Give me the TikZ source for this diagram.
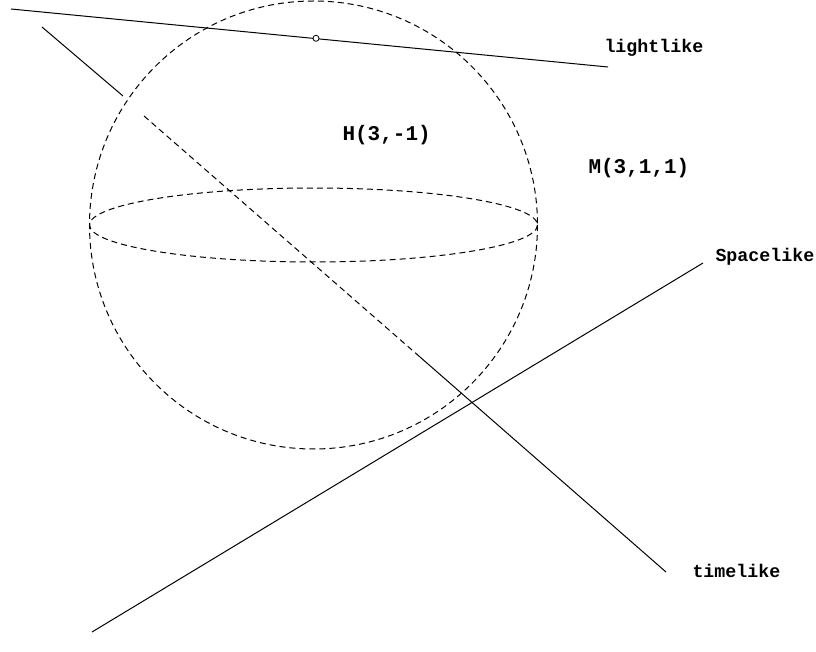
\documentclass[tikz,border=0pt]{standalone}
\usepackage{fontspec}
\setmonofont{Liberation Mono}
\begin{document}
\begin{tikzpicture}[x=1pt,y=-1pt,line width=1pt,
  dsh/.style={dash pattern=on 6pt off 4pt},
  lbl/.style={font=\ttfamily\bfseries\fontsize{18.3}{20}\selectfont,inner sep=0pt},
  biglbl/.style={font=\ttfamily\bfseries\fontsize{21}{23}\selectfont,inner sep=0pt}]
\useasboundingbox (0,0) rectangle (816,652);
% sphere
\coordinate (c) at (313.5,225);
\draw[dsh] (c) circle[radius=224];
\draw[dsh] (c) ellipse[x radius=224,y radius=37];
% lightlike line
\coordinate (l1) at (11,9);
\coordinate (l2) at (608,67);
\draw (l1) -- (l2);
\node[circle,draw,fill=white,inner sep=0pt,minimum size=6pt,line width=0.8pt] (p) at (316,38.3) {};
% timelike line
\coordinate (t1) at (42,27);
\coordinate (t2) at (123,96);
\coordinate (t3) at (144,116);
\coordinate (t4) at (420,357);
\coordinate (t5) at (666,572);
\draw (t1) -- (t2);
\draw[dsh] (t3) -- (t4);
\draw (t4) -- (t5);
% spacelike line
\coordinate (s1) at (92,632);
\coordinate (s2) at (703,263);
\draw (s1) -- (s2);
% labels
\node[lbl,anchor=west] (light) at (604,48) {lightlike};
\node[biglbl,anchor=west] (H) at (342,135) {H(3,-1)};
\node[biglbl,anchor=west] (M) at (588,168) {M(3,1,1)};
\node[lbl,anchor=west] (space) at (715,257) {Spacelike};
\node[lbl,anchor=west] (time) at (692,571) {timelike};
\end{tikzpicture}
\end{document}
